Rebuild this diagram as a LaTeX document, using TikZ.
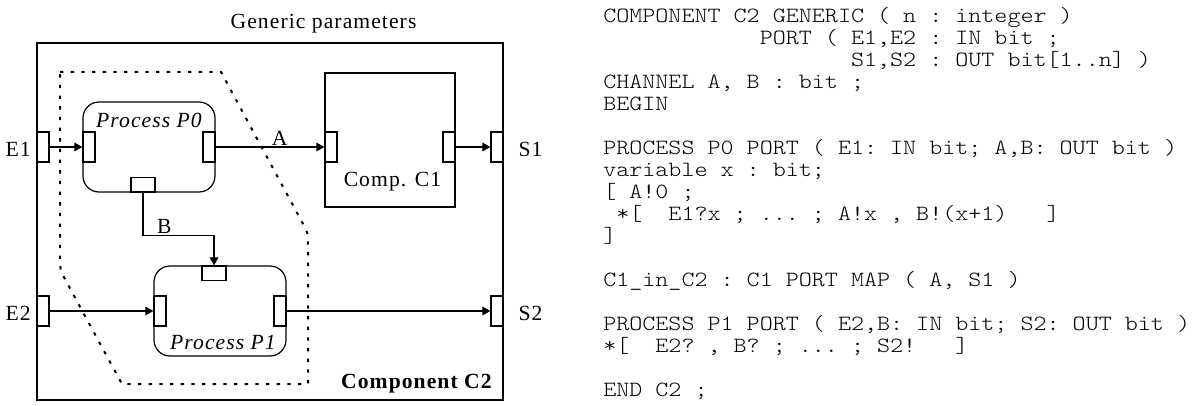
\documentclass[tikz,border=0pt]{standalone}
\usepackage{fontspec}
\setmainfont{Liberation Serif}[LetterSpace=5]
\setmonofont{lmmonolt10-regular.otf}[FakeStretch=1.1429]
\usepackage{tikz}
\usetikzlibrary{arrows.meta,positioning}
\newcommand{\codeindent}[1]{\hspace*{#1\fontcharwd\font`\M}}

\begin{document}
\begin{tikzpicture}[x=0.75pt,y=-0.75pt,
    lbl/.style={font=\fontsize{16.2pt}{19pt}\selectfont, inner sep=0pt},
    edgelbl/.style={lbl, inner sep=1pt},
    code/.style={font=\ttfamily\fontsize{16.3pt}{16.5pt}\selectfont, anchor=base west, inner sep=0pt},
    comp/.style={draw, line width=0.9pt, inner sep=0pt},
    process/.style={draw, line width=0.9pt, rounded corners=12pt, inner sep=0pt,
      minimum width=99pt, minimum height=67.5pt},
    port/.style={draw, fill=white, line width=0.9pt, inner sep=0pt,
      minimum width=9pt, minimum height=22.5pt},
    hport/.style={port, minimum width=18pt, minimum height=11pt},
    arr/.style={line width=0.8pt, -{Triangle[length=6pt,width=6.5pt]}},
    boundary/.style={line width=1.5pt, dash pattern=on 2.5pt off 5.5pt}]
  \useasboundingbox (0,0) rectangle (1192,406);

  \draw[boundary] (60,72) -- (221,72) -- (302,222) .. controls (308,233) .. (308,246)
    -- (308,384) -- (122,384) -- (66,281) .. controls (60,270) .. (60,258) -- cycle;

  \node[comp, minimum width=349.5pt, minimum height=267.75pt] (C2) at (270,221.5) {};
  \node[lbl, anchor=base] (generic) at (323.5,29) {Generic parameters};
  \node[lbl, anchor=base east, font=\fontsize{16.2pt}{19pt}\selectfont\bfseries] (C2name) at (492,388) {Component C2};

  \node[process] (P0) at (149,147) {};
  \node[port, anchor=west] (P0in) at (P0.west) {};
  \node[port, anchor=east] (P0out) at (P0.east) {};
  \node[hport, anchor=south] (P0b) at ([xshift=-4.5pt]P0.south) {};
  \node[lbl, anchor=base, font=\fontsize{16.2pt}{19pt}\selectfont\itshape] (P0name) at (149,128) {Process P0};

  \node[process] (P1) at (220,311) {};
  \node[port, anchor=west] (P1in) at (P1.west) {};
  \node[port, anchor=east] (P1out) at (P1.east) {};
  \node[hport, anchor=north] (P1t) at ([xshift=-4.5pt]P1.north) {};
  \node[lbl, anchor=base, font=\fontsize{16.2pt}{19pt}\selectfont\itshape] (P1name) at (223,349) {Process P1};

  \node[comp, minimum width=97.5pt, minimum height=100.5pt] (C1) at (390,140) {};
  \node[port, anchor=west] (C1in) at (C1.west |- P0) {};
  \node[port, anchor=east] (C1out) at (C1.east |- P0) {};
  \node[lbl, anchor=base] (C1name) at (392.5,187) {Comp. C1};

  \node[port, anchor=west] (E1) at (C2.west |- P0) {};
  \node[port, anchor=west] (E2) at (C2.west |- P1) {};
  \node[port, anchor=east] (S1) at (C2.east |- P0) {};
  \node[port, anchor=east] (S2) at (C2.east |- P1) {};
  \node[lbl, left=4pt of E1, yshift=-2pt] (E1name) {E1};
  \node[lbl, left=4pt of E2, yshift=-2pt] (E2name) {E2};
  \node[lbl, right=11pt of S1, yshift=-2pt] (S1name) {S1};
  \node[lbl, right=11pt of S2, yshift=-2pt] (S2name) {S2};

  \draw[arr] (E1) -- (P0in);
  \draw[arr] (P0out) -- node[edgelbl, above, pos=0.59] {A} (C1in);
  \draw[arr] (C1out) -- (S1);
  \draw[arr] (P0b.south) -- ++(0,43) -| node[edgelbl, above, pos=0.15] {B} (P1t.north);
  \draw[arr] (E2) -- (P1in);
  \draw[arr] (P1out) -- (S2);

  \node[code] (line0) at (603,22.5) {COMPONENT C2 GENERIC ( n : integer )};
  \node[code] (line1) at (603,44.5) {\codeindent{12}PORT ( E1,E2 : IN bit ;};
  \node[code] (line2) at (603,66.5) {\codeindent{19}S1,S2 : OUT bit[1..n] )};
  \node[code] (line3) at (603,88.5) {CHANNEL A, B : bit ;};
  \node[code] (line4) at (603,110.5) {BEGIN};
  \node[code] (line6) at (603,154.5) {PROCESS P0 PORT ( E1: IN bit; A,B: OUT bit )};
  \node[code] (line7) at (603,176.5) {variable x : bit;};
  \node[code] (line8) at (603,198.5) {[ A!0 ;};
  \node[code] (line9) at (603,220.5) {\codeindent{1}*[~~E1?x ; ... ; A!x , B!(x+1)~~~]};
  \node[code] (line10) at (603,242.5) {]};
  \node[code] (line12) at (603,286.5) {C1\_in\_C2 : C1 PORT MAP ( A, S1 )};
  \node[code] (line14) at (603,330.5) {PROCESS P1 PORT ( E2,B: IN bit; S2: OUT bit )};
  \node[code] (line15) at (603,352.5) {*[~~E2? , B? ; ... ; S2!~~~]};
  \node[code] (line17) at (603,396.5) {END C2 ;};
\end{tikzpicture}
\end{document}
